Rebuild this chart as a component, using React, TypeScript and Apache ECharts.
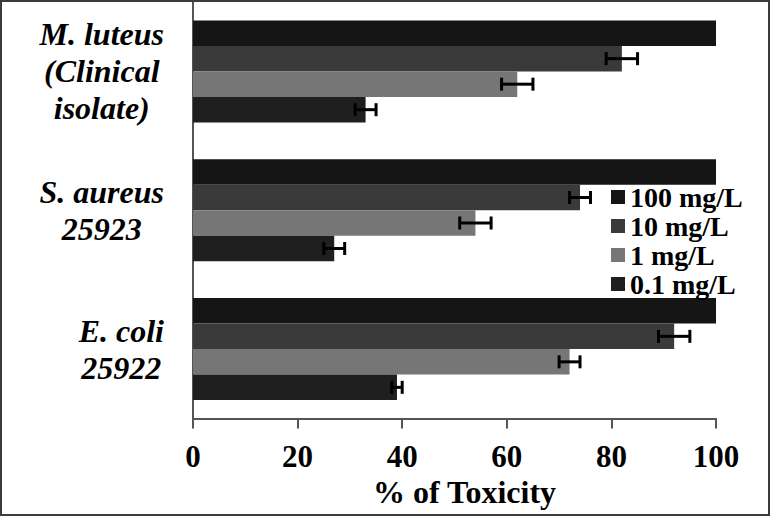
import React, { useEffect, useRef } from 'react';
import * as echarts from 'echarts';

const categories = ['E. coli\n25922', 'S. aureus\n25923', 'M. luteus\n(Clinical\nisolate)'];
const seriesNames = ['100 mg/L', '10 mg/L', '1 mg/L', '0.1 mg/L'];
const v100 = [100, 100, 100];
const v10 = [92, 74, 82];
const v1 = [72, 54, 62];
const v01 = [39, 27, 33];
const e100 = [0, 0, 0];
const e10 = [3, 2, 3];
const e1 = [2, 3, 3];
const e01 = [1, 2, 2];
const xTicks = [0, 20, 40, 60, 80, 100];

const colors = ['#151515', '#3a3a3a', '#767676', '#1f1f1f'];
const FONT = '"Liberation Serif", "Times New Roman", serif';
const GAP = 0.265;

export default function App() {
  const ref = useRef<HTMLDivElement>(null);
  useEffect(() => {
    if (!ref.current) return;
    const chart = echarts.init(ref.current, null, { renderer: 'svg' });
    const values = [v100, v10, v1, v01];
    const errs = [e100, e10, e1, e01];
    const errData: number[][] = [];
    values.forEach((vals, k) => {
      vals.forEach((v, c) => {
        errData.push([v, c, errs[k][c], k]);
      });
    });
    const barSeries = seriesNames.map((name, k) => ({
      name,
      type: 'bar',
      data: values[k],
      barGap: '0%',
      barCategoryGap: GAP * 100 + '%',
      itemStyle: { color: colors[k] },
    }));
    chart.setOption({
      animation: false,
      backgroundColor: '#fff',
      grid: { left: 193, right: 54, top: 2, bottom: 97.5, containLabel: false },
      legend: {
        orient: 'vertical',
        left: 611,
        top: 183,
        padding: 0,
        itemGap: 1,
        itemWidth: 14,
        itemHeight: 14,
        icon: 'rect',
        data: seriesNames,
        textStyle: { fontFamily: FONT, fontWeight: 'bold', fontSize: 28, lineHeight: 28, color: '#000' },
      },
      xAxis: {
        type: 'value',
        min: xTicks[0],
        max: xTicks[xTicks.length - 1],
        interval: xTicks[1] - xTicks[0],
        name: '% of Toxicity',
        nameLocation: 'middle',
        nameGap: 52,
        nameTextStyle: { fontFamily: FONT, fontWeight: 'bold', fontSize: 32, color: '#000', padding: [0, 0, 0, 20] },
        axisLine: { show: true, lineStyle: { color: '#555', width: 2 } },
        axisTick: { show: true, length: 10, lineStyle: { color: '#555', width: 2 } },
        splitLine: { show: false },
        axisLabel: { fontFamily: FONT, fontWeight: 'bold', fontSize: 31, color: '#000', margin: 22 },
      },
      yAxis: {
        type: 'category',
        data: categories,
        axisLine: { show: true, lineStyle: { color: '#555', width: 2 } },
        axisTick: { show: false },
        axisLabel: {
          margin: 29,
          align: 'right',
          formatter: (v: string) => v.split('\n').map((l) => '{c|' + l + '}').join('\n'),
          rich: {
            c: { align: 'center', fontFamily: FONT, fontWeight: 'bold', fontStyle: 'italic', fontSize: 32, lineHeight: 37, color: '#000' },
          },
        },
      },
      graphic: [
        { type: 'rect', shape: { x: 1, y: 1, width: 768, height: 514 }, style: { fill: 'none', stroke: '#3c3c3c', lineWidth: 2 }, z: 100 },
      ],
      series: [
        ...barSeries,
        {
          type: 'custom',
          name: 'err',
          data: errData,
          z: 10,
          renderItem: (params: any, api: any) => {
            const val = api.value(0);
            const cat = api.value(1);
            const err = api.value(2);
            const k = api.value(3);
            if (!err) return null;
            const band = api.size([0, 1])[1];
            const usable = band * (1 - GAP);
            const bw = usable / 4;
            const center = api.coord([val, cat]);
            const y = center[1] - usable / 2 + bw * (k + 0.5);
            const x1 = api.coord([val - err, cat])[0];
            const x2 = api.coord([val + err, cat])[0];
            const h = 6.5;
            const st = { stroke: '#000', lineWidth: 3 };
            return {
              type: 'group',
              children: [
                { type: 'line', shape: { x1, y1: y, x2, y2: y }, style: st },
                { type: 'line', shape: { x1, y1: y - h, x2: x1, y2: y + h }, style: st },
                { type: 'line', shape: { x1: x2, y1: y - h, x2, y2: y + h }, style: st },
              ],
            };
          },
        },
      ],
    } as any);
    return () => chart.dispose();
  }, []);
  return <div ref={ref} style={{ position: 'fixed', left: 0, top: 0, width: 770, height: 516 }} />;
}
